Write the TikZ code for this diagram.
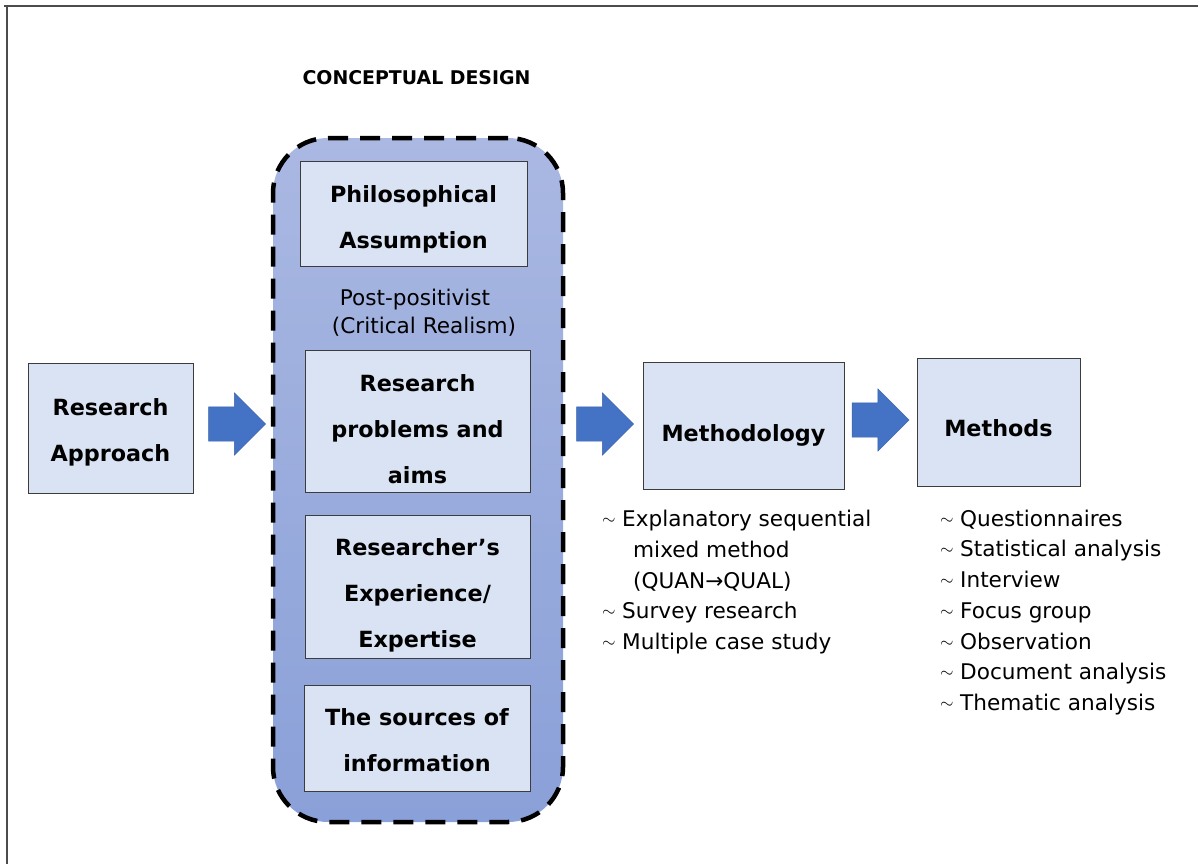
\documentclass[tikz,border=0pt]{standalone}
\usepackage{fontspec}
\setmainfont{DejaVu Sans}
\usepackage{xcolor}
\usetikzlibrary{shapes.arrows}
\definecolor{boxfill}{HTML}{DAE3F3}
\definecolor{boxline}{HTML}{3C3C3C}
\definecolor{arrowblue}{HTML}{4472C4}
\definecolor{designtop}{HTML}{AAB8E2}
\definecolor{designbot}{HTML}{8AA0D8}
\newcommand{\tbul}{\makebox[20pt][l]{\raisebox{2pt}{\fontsize{19}{19}\selectfont$\sim$}}}
\newcommand{\tdown}[1]{\rule{0pt}{#1}}

\begin{document}
\begin{tikzpicture}[x=1pt, y=-1pt,
  every node/.style={inner sep=0pt},
  bigtext/.style={font=\fontsize{22.3}{46}\selectfont\bfseries, align=center},
  plaintext/.style={font=\fontsize{21.6}{30.7}\selectfont, align=left},
  stepbox/.style={draw=boxline, fill=boxfill, line width=0.8pt, bigtext},
  blockarrow/.style={single arrow, fill=arrowblue, draw=arrowblue!85!black, line width=0.4pt,
    minimum height=57pt, single arrow head extend=14pt, inner xsep=0pt, inner ysep=17pt}]
\useasboundingbox (0,0) rectangle (1198,864);
% frame
\draw[line width=2pt, black!70] (4,6) -- (1198,6);
\draw[line width=2pt, black!70] (7,6) -- (7,864);
% Conceptual design
\node[font=\fontsize{18.9}{22}\selectfont\bfseries, anchor=base] (title) at (416.5,85) {CONCEPTUAL DESIGN};
\node[draw=black, line width=4.5pt, dash pattern=on 20pt off 12pt, rounded corners=55pt,
  top color=designtop, bottom color=designbot, minimum width=290pt, minimum height=684pt] (design) at (418,480) {};
\node[stepbox, minimum width=227pt, minimum height=105pt] (philo) at (413.5,213.5) {\tdown{29pt}Philosophical\\Assumption};
\node[plaintext, font=\fontsize{21.6}{28}\selectfont, align=center, anchor=north] (stance) at (415,288.6) {Post-positivist\\\hspace*{18pt}(Critical Realism)};
\node[stepbox, minimum width=225pt, minimum height=142pt] (problems) at (417.5,421) {\tdown{33pt}Research\\problems and\\aims};
\node[stepbox, minimum width=225pt, minimum height=143pt] (expert) at (417.5,586.5) {\tdown{35pt}Researcher’s\\Experience/\\Expertise};
\node[stepbox, minimum width=226pt, minimum height=106pt] (sources) at (417,738) {\tdown{21pt}The sources of\\information};
% Approach, methodology, methods
\node[stepbox, minimum width=165pt, minimum height=130pt] (appr) at (110.5,428) {\tdown{25pt}Research\\Approach};
\node[stepbox, minimum width=201pt, minimum height=127pt] (method) at (743.5,425.5) {\tdown{37pt}Methodology};
\node[stepbox, minimum width=163pt, minimum height=128pt] (methods) at (998.5,422) {\tdown{29pt}Methods};
\node[blockarrow] (arr1) at (228.5,424) {};
\node[blockarrow] (arr2) at (596.5,424) {};
\node[blockarrow] (arr3) at (872,420) {};
% lists
\node[plaintext, anchor=north west] (listA) at (602,510)
  {\tbul Explanatory sequential\\\hspace*{31pt}mixed method\\\hspace*{31pt}(QUAN→QUAL)\\\tbul Survey research\\\tbul Multiple case study};
\node[plaintext, anchor=north west] (listB) at (940,509.6)
  {\tbul Questionnaires\\\tbul Statistical analysis\\\tbul Interview\\\tbul Focus group\\\tbul Observation\\\tbul Document analysis\\\tbul Thematic analysis};
\end{tikzpicture}
\end{document}
